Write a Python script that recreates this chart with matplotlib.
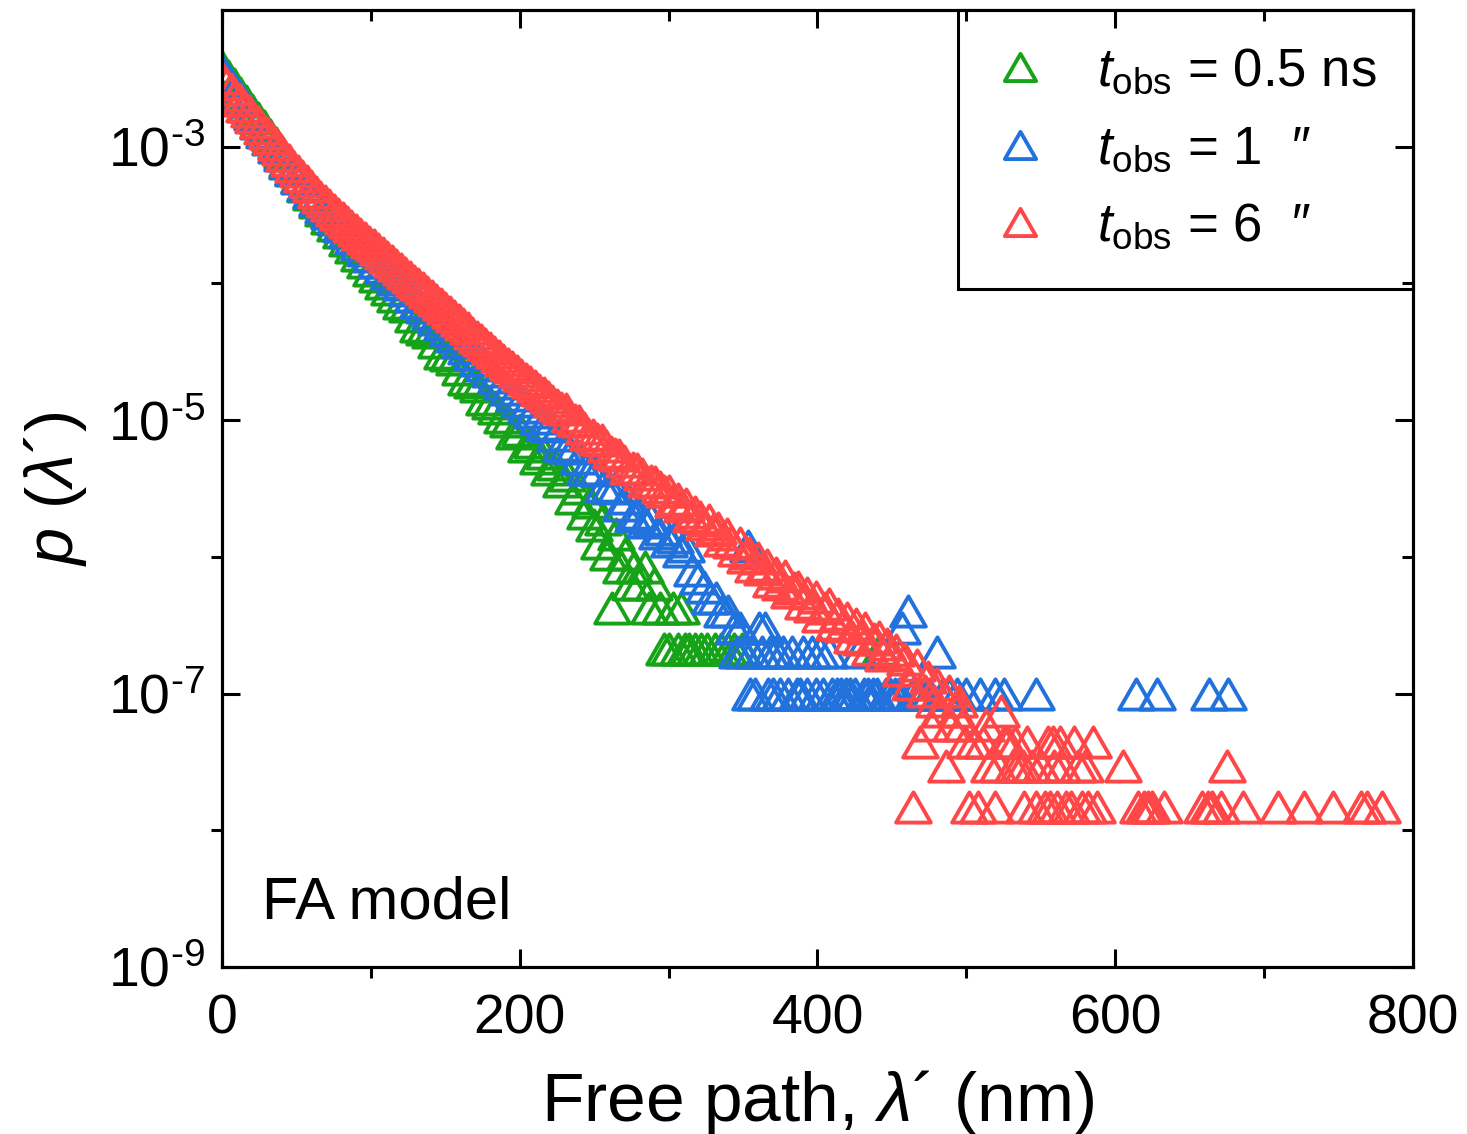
import matplotlib
matplotlib.use("Agg")
import matplotlib.pyplot as plt
from matplotlib.markers import MarkerStyle
from matplotlib.path import Path
from matplotlib.ticker import FixedLocator, FixedFormatter, NullFormatter

plt.rcParams['font.family'] = ['Liberation Sans', 'DejaVu Sans']
plt.rcParams['mathtext.fontset'] = 'custom'
plt.rcParams['mathtext.rm'] = 'Liberation Sans'
plt.rcParams['mathtext.it'] = 'Liberation Sans:italic'
plt.rcParams['mathtext.bf'] = 'Liberation Sans:bold'

# ---- data (free path in nm, probability density) ----
green_x = [0, 4, 8, 12, 16, 20, 24, 28, 32, 36, 40, 44, 48, 52, 56, 60, 64, 68, 72, 76,
           80, 84, 88, 92, 96, 100, 104, 108, 112, 116, 120, 124, 128, 132, 136, 140, 144,
           148, 152, 156, 160, 164, 168, 172, 176, 180,
           184, 188, 192, 196, 200, 204, 208, 212, 216, 220, 224, 228, 232, 236, 240, 244,
           247, 250, 253, 256, 259, 262, 265, 268, 271, 274, 277, 280, 284, 287, 290, 294,
           297, 300, 303, 306, 308, 311, 314, 318, 322, 326, 331, 335, 340, 344, 349, 442]
green_p = [3.80e-3, 3.30e-3, 2.86e-3, 2.49e-3, 2.16e-3, 1.87e-3, 1.63e-3, 1.42e-3, 1.22e-3, 1.06e-3,
           9.12e-4, 7.87e-4, 6.84e-4, 5.96e-4, 5.19e-4, 4.52e-4, 3.94e-4, 3.44e-4, 3.03e-4, 2.67e-4,
           2.36e-4, 2.08e-4, 1.84e-4, 1.62e-4, 1.43e-4, 1.26e-4, 1.13e-4, 1.01e-4, 9.04e-5, 8.09e-5,
           7.24e-5, 6.80e-5, 5.81e-5, 4.90e-5, 4.66e-5, 4.40e-5, 3.73e-5, 3.10e-5, 2.99e-5, 2.80e-5,
           2.38e-5, 2.00e-5, 1.89e-5, 1.78e-5, 1.42e-5, 1.34e-5,
           1.22e-5, 1.05e-5, 9.9e-6, 8.0e-6, 8.4e-6, 6.5e-6, 6.9e-6, 5.3e-6, 5.7e-6, 4.4e-6,
           4.8e-6, 3.6e-6, 4.0e-6, 2.7e-6, 3.2e-6, 2.1e-6, 2.5e-6, 1.7e-6, 1.26e-6, 1.9e-6,
           1.05e-6, 4.2e-7, 1.47e-6, 8.4e-7, 1.05e-6, 6.3e-7, 8.4e-7, 6.3e-7, 8.4e-7, 4.2e-7,
           6.3e-7, 4.2e-7, 2.1e-7, 2.1e-7, 4.2e-7, 2.1e-7, 4.2e-7, 2.1e-7, 2.1e-7, 2.1e-7,
           2.1e-7, 2.1e-7, 2.1e-7, 2.1e-7, 2.1e-7, 2.1e-7, 2.1e-7, 2.1e-7]

blue_x = [0, 4, 8, 12, 16, 20, 24, 28, 32, 36, 40, 44, 48, 52, 56, 60, 64, 68, 72, 76,
          80, 84, 88, 92, 96, 100, 104, 108, 112, 116, 120, 124, 128, 132, 136, 140, 144, 148,
          152, 156, 160, 164, 168, 172, 176, 180, 184, 188, 192, 196, 200, 204, 208, 212, 216,
          220, 224, 228, 232, 236, 240, 244, 248, 252, 256, 260, 264, 268, 272, 276,
          280, 284, 288, 292, 296, 300, 304, 308, 312, 316, 320, 324, 328, 332, 336, 340, 344,
          346, 348, 350, 353, 355, 356, 358, 361, 363, 365, 367, 368, 370, 372, 375, 377, 380,
          383, 386, 388, 390, 393, 396, 399, 402, 404, 408, 410, 413, 416, 419, 422, 425, 428,
          431, 434, 437, 440, 443, 446, 449, 452, 455, 457, 461, 464, 468, 471, 475, 480, 484,
          488, 494, 500, 509, 519, 525, 547, 614, 628, 663, 676]
blue_p = [3.55e-3, 3.07e-3, 2.66e-3, 2.30e-3, 1.99e-3, 1.73e-3, 1.49e-3, 1.29e-3, 1.13e-3, 9.91e-4,
          8.71e-4, 7.66e-4, 6.75e-4, 5.94e-4, 5.25e-4, 4.63e-4, 4.08e-4, 3.62e-4, 3.27e-4, 2.94e-4,
          2.65e-4, 2.39e-4, 2.16e-4, 1.95e-4, 1.76e-4, 1.58e-4, 1.44e-4, 1.31e-4, 1.19e-4, 1.08e-4,
          9.82e-5, 8.91e-5, 8.11e-5, 7.36e-5, 6.70e-5, 6.08e-5, 5.52e-5, 5.02e-5, 4.55e-5, 4.12e-5,
          3.73e-5, 3.38e-5, 3.06e-5, 2.77e-5, 2.51e-5, 2.27e-5, 2.06e-5, 1.86e-5, 1.68e-5, 1.52e-5,
          1.38e-5, 1.25e-5, 1.14e-5, 1.04e-5, 9.42e-6, 9.00e-6, 7.76e-6, 6.60e-6, 6.41e-6, 6.30e-6,
          5.30e-6, 4.40e-6, 4.38e-6, 4.30e-6, 3.30e-6, 3.24e-6, 3.20e-6, 2.40e-6, 2.70e-6, 2.00e-6,
          2.1e-6, 1.8e-6, 1.9e-6, 1.5e-6, 1.6e-6, 1.3e-6, 1.4e-6, 1.1e-6, 1.2e-6, 8e-7,
          7e-7, 6e-7, 5e-7, 5e-7, 4e-7, 4e-7, 3e-7,
          2e-7, 3e-7, 2e-7, 1.2e-6, 1e-7, 2e-7, 1e-7, 3e-7, 2e-7, 3e-7, 1e-7, 2e-7, 1e-7, 2e-7,
          1e-7, 2e-7, 1e-7, 2e-7, 1e-7, 1e-7, 2e-7, 1e-7, 2e-7, 1e-7, 2e-7, 1e-7, 2e-7, 1e-7,
          1e-7, 1e-7, 1e-7, 1e-7, 1e-7, 2e-7, 1e-7, 1e-7, 1e-7, 1e-7, 2e-7, 1e-7, 1e-7, 1e-7,
          1e-7, 3e-7, 4e-7, 1e-7, 1e-7, 1e-7, 1e-7, 2e-7, 1e-7, 1e-7, 1e-7, 1e-7, 1e-7, 1e-7,
          1e-7, 1e-7, 1e-7, 1e-7, 1e-7, 1e-7]

red_x = [0, 3, 6, 9, 12, 15, 18, 21, 24, 27, 30, 33, 36, 39, 42, 45, 48, 51, 54, 57,
         60, 63, 66, 69, 72, 75, 78, 81, 84, 87, 90, 93, 96, 99, 102, 105, 108, 111, 114, 117,
         120, 123, 126, 129, 132, 135, 138, 141, 144, 147, 150, 153, 156, 159, 162, 165, 168,
         171, 174, 177, 180, 183, 186, 189, 192, 195, 198, 201, 204, 207, 210, 213, 216, 219,
         222, 225, 228, 231, 234, 237, 240, 243, 246, 249, 252, 255, 258, 261, 264, 267, 270,
         273, 276, 279, 282, 285, 288, 291, 294, 297,
         300, 303, 306, 309, 312, 315, 318, 321, 324, 327, 330, 333, 336, 339, 342, 345, 348,
         351, 354, 357, 360, 363, 366, 369, 372, 375, 378, 381, 384, 387, 390, 393, 396, 399,
         402, 405, 408, 411, 414, 417, 420, 423, 426, 429, 432, 435, 438, 441, 444, 447, 450,
         453, 456, 459, 462, 464, 467, 469, 472, 474, 476, 478, 480, 483, 486, 488, 490, 493,
         495, 497, 499, 502, 505, 508, 511, 513, 515, 519, 521, 523, 525, 528, 531, 533, 535,
         538, 539, 541, 544, 547, 550, 553, 555, 556, 558, 559, 561, 563, 564, 567, 570, 572,
         575, 578, 580, 582, 585, 588, 605, 615, 619, 622, 625, 633, 658, 662, 665, 671, 675,
         686, 709, 727, 746, 765, 769, 779]
red_p = [3.16e-3, 2.88e-3, 2.63e-3, 2.40e-3, 2.19e-3, 2.00e-3, 1.82e-3, 1.66e-3, 1.51e-3, 1.38e-3,
         1.26e-3, 1.15e-3, 1.05e-3, 9.55e-4, 8.71e-4, 7.94e-4, 7.28e-4, 6.67e-4, 6.10e-4, 5.58e-4,
         5.12e-4, 4.69e-4, 4.30e-4, 3.98e-4, 3.72e-4, 3.47e-4, 3.24e-4, 3.02e-4, 2.82e-4, 2.63e-4,
         2.46e-4, 2.31e-4, 2.16e-4, 2.02e-4, 1.90e-4, 1.78e-4, 1.66e-4, 1.56e-4, 1.46e-4, 1.37e-4,
         1.28e-4, 1.20e-4, 1.12e-4, 1.05e-4, 9.86e-5, 9.23e-5, 8.65e-5, 8.09e-5, 7.59e-5, 7.08e-5,
         6.61e-5, 6.17e-5, 5.75e-5, 5.37e-5, 5.01e-5, 4.68e-5, 4.37e-5, 4.08e-5, 3.83e-5, 3.58e-5,
         3.35e-5, 3.14e-5, 2.94e-5, 2.75e-5, 2.58e-5, 2.43e-5, 2.28e-5, 2.14e-5, 2.01e-5, 1.89e-5,
         1.78e-5, 1.67e-5, 1.57e-5, 1.48e-5, 1.39e-5, 1.30e-5, 1.22e-5, 1.20e-5, 1.08e-5, 1.01e-5,
         9.80e-6, 8.83e-6, 7.90e-6, 7.74e-6, 7.28e-6, 7.10e-6, 6.43e-6, 5.80e-6, 5.68e-6, 5.60e-6,
         5.01e-6, 4.50e-6, 4.49e-6, 4.40e-6, 4.02e-6, 3.60e-6, 3.60e-6, 3.55e-6, 3.22e-6, 3.05e-6,
         3.02e-6, 2.54e-6, 2.63e-6, 2.34e-6, 2.45e-6, 2.00e-6, 2.14e-6, 1.95e-6, 1.74e-6, 1.86e-6,
         1.58e-6, 1.62e-6, 1.32e-6, 1.48e-6, 1.29e-6, 1.12e-6, 1.26e-6, 1.00e-6, 1.07e-6, 8.5e-7,
         9.8e-7, 8.1e-7, 8.7e-7, 6.6e-7, 7.6e-7, 6.3e-7, 7.2e-7, 5.5e-7, 5.9e-7, 6.0e-7,
         4.6e-7, 5.4e-7, 4.4e-7, 5.1e-7, 3.7e-7, 4.2e-7, 4.5e-7, 3.2e-7, 3.8e-7, 3.1e-7,
         3.55e-7, 2.6e-7, 3.2e-7, 2.5e-7, 3.0e-7, 2.1e-7, 2.5e-7, 2.6e-7, 1.9e-7, 2.3e-7, 1.95e-7,
         2.07e-7, 1.48e-7, 1.78e-7, 1.18e-7, 1.48e-8, 1.63e-7, 4.44e-8, 1.04e-7, 1.33e-7, 5.92e-8,
         8.88e-8, 1.18e-7, 7.40e-8, 2.96e-8, 1.04e-7, 5.92e-8, 7.40e-8, 8.88e-8, 5.92e-8, 4.44e-8,
         1.48e-8, 4.44e-8, 1.48e-8, 4.44e-8, 5.92e-8, 2.96e-8, 1.48e-8, 2.96e-8, 7.40e-8, 4.44e-8,
         4.44e-8, 2.96e-8, 4.44e-8, 2.96e-8, 2.96e-8, 1.48e-8, 4.44e-8, 2.96e-8, 1.48e-8, 2.96e-8,
         1.48e-8, 4.44e-8, 1.48e-8, 4.44e-8, 2.96e-8, 1.48e-8, 4.44e-8, 2.96e-8, 1.48e-8, 1.48e-8,
         4.44e-8, 2.96e-8, 1.48e-8, 2.96e-8, 1.48e-8, 4.44e-8, 1.48e-8, 2.96e-8, 1.48e-8, 1.48e-8,
         1.48e-8, 1.48e-8, 1.48e-8, 1.48e-8, 1.48e-8, 1.48e-8, 1.48e-8, 2.96e-8, 1.48e-8,
         1.48e-8, 1.48e-8, 1.48e-8, 1.48e-8, 1.48e-8, 1.48e-8]

series_labels = [r"$t_\mathrm{obs}$ = 0.5 ns",
                 r"$t_\mathrm{obs}$ = 1  $\mathit{″}$",
                 r"$t_\mathrm{obs}$ = 6  $\mathit{″}$"]
series_colors = ["#17a317", "#2272dd", "#ff4747"]

x_major = [0, 200, 400, 600, 800]
x_minor = [100, 300, 500, 700]
y_major = [1e-9, 1e-7, 1e-5, 1e-3]
y_minor = [1e-8, 1e-6, 1e-4]
y_major_labels = [r"$10^{\text{-}9}$", r"$10^{\text{-}7}$", r"$10^{\text{-}5}$", r"$10^{\text{-}3}$"]

# open triangle, a bit flatter than matplotlib's '^'
tri_path = Path([(0, 0.87), (-1, -0.87), (1, -0.87), (0, 0.87)],
                [Path.MOVETO, Path.LINETO, Path.LINETO, Path.CLOSEPOLY])
tri = MarkerStyle(tri_path, joinstyle='miter')

fig = plt.figure(figsize=(14.67, 11.34), dpi=100)
ax = fig.add_axes([0.1513, 0.1473, 0.8119, 0.8439])

for xs, ps, col, lab in zip([green_x, blue_x, red_x], [green_p, blue_p, red_p],
                            series_colors, series_labels):
    ax.plot(xs, ps, ls='none', marker=tri, ms=25, mfc='none', mec=col, mew=2.8, label=lab)

ax.set_yscale('log')
ax.set_xlim(0, 800)
ax.set_ylim(1e-9, 1e-2)

# twins only to carry the inward ticks on the top and right sides
axt = ax.twiny()
axt.set_xlim(0, 800)
axt.xaxis.set_major_locator(FixedLocator(x_major))
axt.xaxis.set_minor_locator(FixedLocator(x_minor))
axt.tick_params(axis='x', which='both', direction='in', top=True, labeltop=False, width=2.2)
axt.tick_params(axis='x', which='major', length=13)
axt.tick_params(axis='x', which='minor', length=8)

axr = ax.twinx()
axr.set_yscale('log')
axr.set_ylim(1e-9, 1e-2)
axr.yaxis.set_major_locator(FixedLocator(y_major))
axr.yaxis.set_minor_locator(FixedLocator(y_minor))
axr.yaxis.set_minor_formatter(NullFormatter())
axr.tick_params(axis='y', which='both', direction='in', right=True, labelright=False, width=2.2)
axr.tick_params(axis='y', which='major', length=13)
axr.tick_params(axis='y', which='minor', length=8)

ax.xaxis.set_major_locator(FixedLocator(x_major))
ax.xaxis.set_minor_locator(FixedLocator(x_minor))
ax.yaxis.set_major_locator(FixedLocator(y_major))
ax.yaxis.set_major_formatter(FixedFormatter(y_major_labels))
ax.yaxis.set_minor_locator(FixedLocator(y_minor))
ax.yaxis.set_minor_formatter(NullFormatter())
ax.tick_params(which='major', direction='in', length=13, width=2.2, labelsize=40)
ax.tick_params(which='minor', direction='out', length=8, width=2.2)
ax.tick_params(axis='x', which='major', pad=19)
ax.tick_params(axis='y', which='major', pad=12)

for a in (ax, axt, axr):
    for sp in a.spines.values():
        sp.set_linewidth(2.2)

ax.set_xlabel(r"Free path, $\lambda$´ (nm)", fontsize=50, labelpad=16)
ax.set_ylabel(r"$p$ ($\lambda$´)", fontsize=48, labelpad=14)

ax.text(0.034, 0.051, "FA model", transform=ax.transAxes, fontsize=43,
        ha='left', va='baseline')

leg = ax.legend(loc='upper right', borderaxespad=0, frameon=True, fancybox=False,
                edgecolor='black', fontsize=38, numpoints=1, handlelength=0.95,
                handletextpad=0.98, borderpad=0.7, labelspacing=0.52,
                markerscale=0.9)
leg.get_frame().set_linewidth(2.2)
leg.get_frame().set_alpha(1)

fig.savefig("out.png", dpi=100)
